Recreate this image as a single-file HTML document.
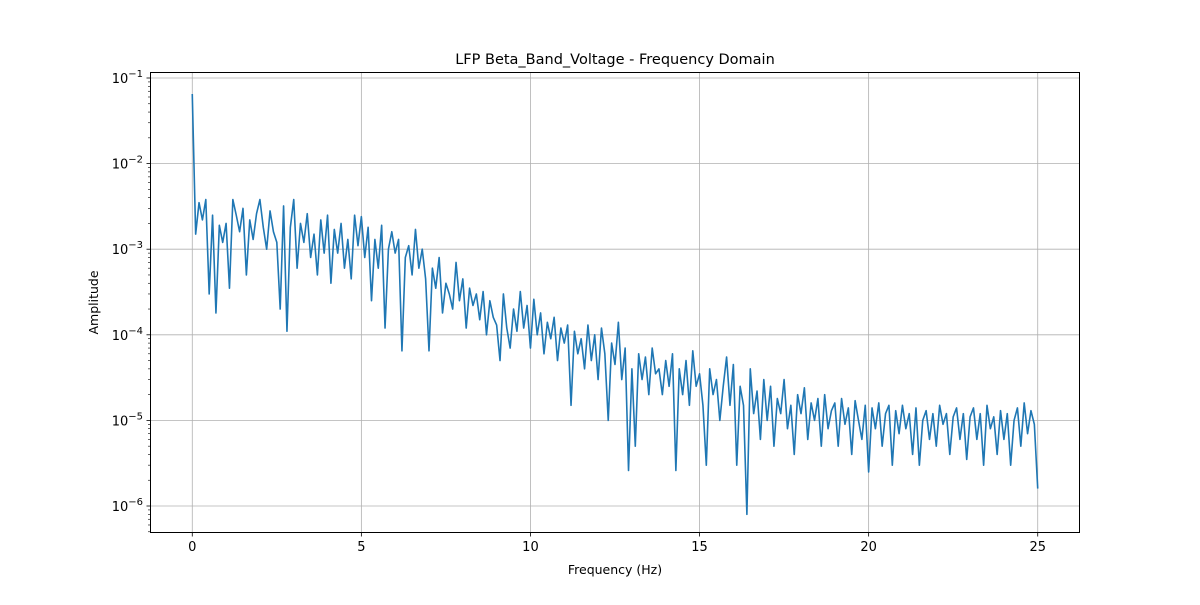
<!DOCTYPE html>
<html><head><meta charset="utf-8"><style>
html,body{margin:0;padding:0;background:#fff;}
svg text{font-family:"DejaVu Sans","Liberation Sans",sans-serif;fill:#000;}
</style></head><body>
<svg id="chart" width="1200" height="600" xmlns="http://www.w3.org/2000/svg"></svg>
<script>
const amps = [
6.5e-2,1.5e-3,3.5e-3,2.2e-3,3.8e-3,3e-4,2.5e-3,1.8e-4,1.9e-3,1.2e-3,
2e-3,3.5e-4,3.8e-3,2.5e-3,1.6e-3,3e-3,5e-4,2.2e-3,1.3e-3,2.6e-3,
3.8e-3,1.8e-3,1e-3,2.8e-3,1.6e-3,1.2e-3,2e-4,3.2e-3,1.1e-4,1.8e-3,
3.8e-3,6e-4,2e-3,1.2e-3,2.6e-3,8e-4,1.5e-3,5e-4,2.2e-3,9e-4,
2.5e-3,4e-4,1.7e-3,9e-4,2e-3,6e-4,1.3e-3,4.5e-4,2.5e-3,1.1e-3,
2.4e-3,8e-4,1.8e-3,2.5e-4,1.3e-3,6e-4,1.9e-3,1.2e-4,1e-3,1.6e-3,
9e-4,1.3e-3,6.5e-5,8e-4,1.1e-3,5e-4,1.7e-3,6e-4,1e-3,4.5e-4,
6.5e-5,6e-4,3.5e-4,8e-4,1.8e-4,4e-4,3e-4,2e-4,7e-4,2.5e-4,
4.5e-4,1.2e-4,3.5e-4,2.2e-4,3e-4,1.5e-4,3.2e-4,1e-4,2.5e-4,1.6e-4,
1.3e-4,5e-5,3e-4,1.2e-4,7e-5,2e-4,1.1e-4,3.2e-4,1.2e-4,2.2e-4,
7e-5,2.6e-4,1e-4,1.8e-4,6e-5,1.4e-4,9e-5,1.6e-4,5e-5,1.2e-4,
8e-5,1.3e-4,1.5e-5,1.1e-4,6e-5,9e-5,4e-5,1.3e-4,5e-5,1e-4,
3e-5,1.2e-4,6e-5,1e-5,8e-5,4.5e-5,1.4e-4,3e-5,7e-5,2.6e-6,
4e-5,5e-6,6e-5,3e-5,5.5e-5,2e-5,7e-5,3.5e-5,4e-5,2e-5,
5e-5,2.5e-5,6e-5,2.6e-6,4e-5,2e-5,5e-5,1.5e-5,6.5e-5,2.5e-5,
3.5e-5,1.5e-5,3e-6,4e-5,2e-5,3e-5,1e-5,2.5e-5,5.5e-5,1.5e-5,
4.5e-5,3e-6,2.5e-5,1.5e-5,8e-7,4e-5,1.2e-5,2.2e-5,6e-6,3e-5,
1e-5,2.5e-5,5e-6,1.8e-5,1.2e-5,3e-5,8e-6,1.5e-5,4e-6,2e-5,
1.2e-5,2.4e-5,6e-6,1.6e-5,1e-5,1.8e-5,5e-6,2e-5,8e-6,1.3e-5,
1.6e-5,5e-6,1.8e-5,9e-6,1.4e-5,4e-6,1.7e-5,1e-5,6e-6,1.5e-5,
2.5e-6,1.4e-5,8e-6,1.6e-5,5e-6,1.2e-5,1.5e-5,3e-6,1.3e-5,7e-6,
1.5e-5,8e-6,1.2e-5,4e-6,1.4e-5,3e-6,1e-5,1.3e-5,6e-6,1.2e-5,
5e-6,1.5e-5,9e-6,1.2e-5,4e-6,1.1e-5,1.4e-5,6e-6,1.2e-5,3.5e-6,
1.1e-5,1.4e-5,6e-6,1.2e-5,3e-6,1.5e-5,8e-6,1.1e-5,4e-6,1.3e-5,
6e-6,1.2e-5,3e-6,1e-5,1.4e-5,5e-6,1.6e-5,7e-6,1.3e-5,9e-6,
1.6e-6];
const freqs = amps.map((_, i) => i * 0.1);
const xTicks = [0, 5, 10, 15, 20, 25];
const yTickExps = [-6, -5, -4, -3, -2, -1];

const L = 150, R = 1080, T = 72, B = 533;
const xMin = -1.25, xMax = 26.25;
const yTopExp = -1, yTopPx = 78, pxPerDec = 85.6;
const X = v => L + (v - xMin) / (xMax - xMin) * (R - L);
const Y = v => yTopPx + (yTopExp - Math.log10(v)) * pxPerDec;
const NS = "http://www.w3.org/2000/svg";
const svg = document.getElementById('chart');
function mk(tag, attrs, parent) {
  const e = document.createElementNS(NS, tag);
  for (const k in attrs) e.setAttribute(k, attrs[k]);
  (parent || svg).appendChild(e);
  return e;
}
const grid = mk('g', {});


xTicks.forEach(t => {
  const x = X(t);
  const gl = mk('line', {x1: x, x2: x, y1: T, y2: B, stroke: '#b0b0b0', 'stroke-width': 0.8}, grid);
  
  
  const tk = mk('line', {x1: x, x2: x, y1: B, y2: B + 3.5, stroke: '#000', 'stroke-width': 0.8});
  
  
  const tx = mk('text', {x: x, y: B + 18, 'text-anchor': 'middle', 'font-size': 13});
  tx.textContent = String(t);
  
  
});
yTickExps.forEach(e => {
  const y = Y(Math.pow(10, e));
  const gl = mk('line', {x1: L, x2: R, y1: y, y2: y, stroke: '#b0b0b0', 'stroke-width': 0.8}, grid);
  
  
  const tk = mk('line', {x1: L - 3.5, x2: L, y1: y, y2: y, stroke: '#000', 'stroke-width': 0.8});
  
  
  const tx = mk('text', {x: L - 7, y: y + 5, 'text-anchor': 'end', 'font-size': 13});
  
  
  const base = mk('tspan', {}, tx); base.textContent = '10';
  const sup = mk('tspan', {dy: -6, 'font-size': 10}, tx); sup.textContent = '\u2212' + Math.abs(e);
});
for (let e = -7; e <= -1; e++) {
  for (let m = 2; m <= 9; m++) {
    const v = m * Math.pow(10, e);
    const y = Y(v);
    if (y < T || y > B) continue;
    const mt = mk('line', {x1: L - 2, x2: L, y1: y, y2: y, stroke: '#000', 'stroke-width': 0.6});
    
    
  }
}
const d = freqs.map((f, i) => (i ? 'L' : 'M') + X(f).toFixed(2) + ',' + Y(amps[i]).toFixed(2)).join(' ');
const line = mk('path', {d: d, fill: 'none', stroke: '#1f77b4', 'stroke-width': 1.6, 'stroke-linejoin': 'round'});


const frame = mk('rect', {x: L + 0.5, y: T + 0.5, width: R - L - 1, height: B - T - 1, fill: 'none', stroke: '#000', 'stroke-width': 1});


const title = mk('text', {x: (L + R) / 2, y: 64, 'text-anchor': 'middle', 'font-size': 14.5});
title.textContent = 'LFP Beta_Band_Voltage - Frequency Domain';


const xl = mk('text', {x: (L + R) / 2, y: 574, 'text-anchor': 'middle', 'font-size': 12.5});
xl.textContent = 'Frequency (Hz)';


const yl = mk('text', {x: 98, y: (T + B) / 2, 'text-anchor': 'middle', 'font-size': 12.5, transform: 'rotate(-90 98 ' + (T + B) / 2 + ')'});
yl.textContent = 'Amplitude';


</script>
</body></html>
